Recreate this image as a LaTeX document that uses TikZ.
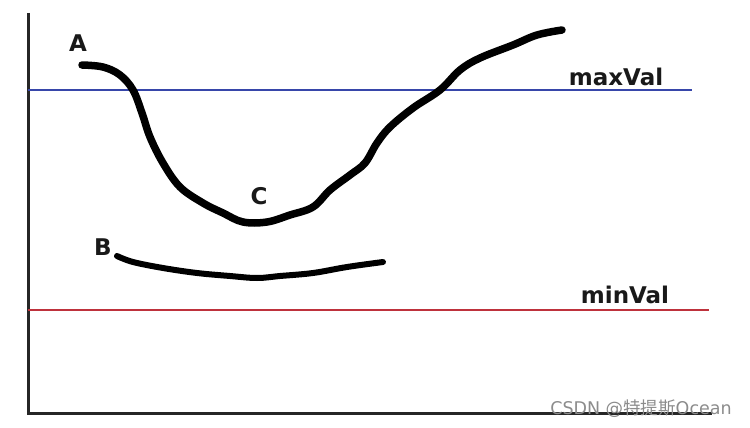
\documentclass[tikz,border=0pt]{standalone}
\usepackage{fontspec}
\setmainfont{DejaVu Sans}
\newfontfamily\cjkfont{Noto Sans CJK SC}
\begin{document}
\begin{tikzpicture}[x=1pt,y=-1pt,
  lbl/.style={font=\fontsize{23}{25}\selectfont\bfseries, text=black!90, inner sep=0pt},
  stroke/.style={line width=7.5pt, line cap=round, line join=round},
  axis/.style={line width=3pt, black!85}]
\fill[white] (0,0) rectangle (750,428);
\useasboundingbox (0,0) rectangle (750,428);
% axes
\coordinate (top) at (28,13);
\coordinate (origin) at (28,413);
\coordinate (xend) at (712,413);
\draw[axis] (top) -- (origin) -- (xend);
% thresholds
\coordinate (maxL) at (28,90);
\coordinate (maxR) at (692,90);
\coordinate (minL) at (28,310);
\coordinate (minR) at (709,310);
\draw[line width=2pt, color={rgb,255:red,55;green,70;blue,170}] (maxL) -- (maxR);
\draw[line width=2pt, color={rgb,255:red,190;green,50;blue,60}] (minL) -- (minR);
\node[lbl] (maxv) at (616,77) {maxVal};
\node[lbl] (minv) at (625,295) {minVal};
% curve A-C
\draw[stroke] plot[smooth, tension=0.6] coordinates {
 (82,65) (103,67) (120,75) (133,90) (142,113) (150,137) (163,163) (180,187)
 (203,203) (223,213) (243,222) (267,222) (290,215) (313,207) (330,190)
 (350,175) (365,163) (377,143) (390,127) (413,108) (440,90) (460,70)
 (480,58) (513,45) (537,35) (562,30)};
% curve B
\draw[line width=6pt, line cap=round, line join=round] plot[smooth, tension=0.6] coordinates {
 (117,256) (133,262) (163,268) (197,273) (230,276) (257,278) (280,276)
 (313,273) (347,267) (383,262)};
\node[lbl] (A) at (78,43) {A};
\node[lbl] (C) at (259,196) {C};
\node[lbl] (B) at (103,247) {B};
% watermark
\node[inner sep=0pt, text=black!45, font=\fontsize{17.5}{19}\selectfont] (wm) at (641,409) {CSDN @{\cjkfont 特提斯}Ocean};
\end{tikzpicture}
\end{document}
